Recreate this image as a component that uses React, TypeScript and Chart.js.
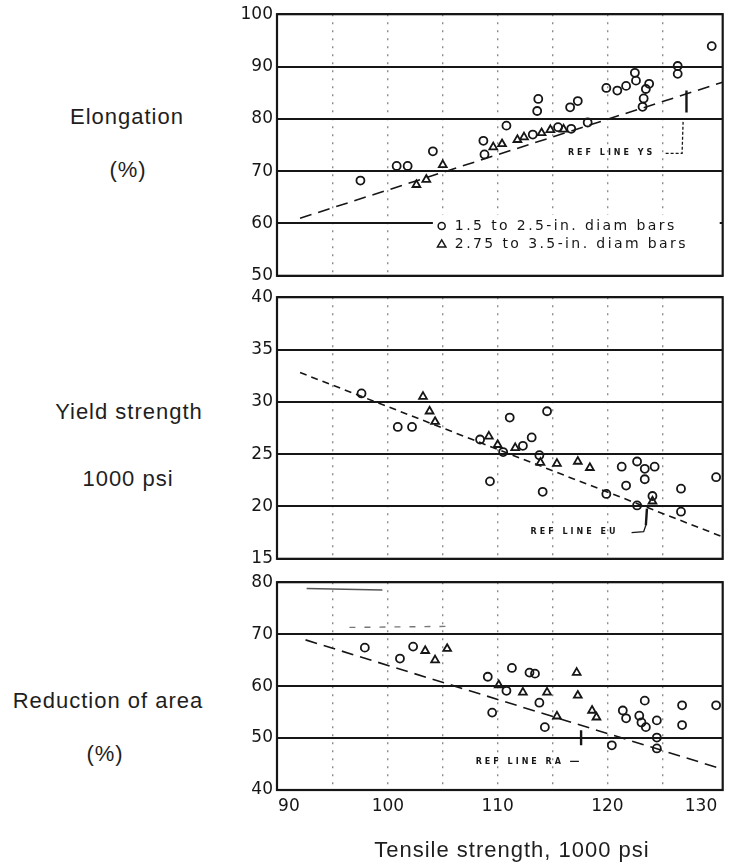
import React, { useEffect, useRef } from "react";
import { Chart, registerables } from "chart.js";

Chart.register(...registerables);

// ---------- data ----------
const xTickValues = [90, 95, 100, 105, 110, 115, 120, 125, 130];

const elongationTicks = [50, 60, 70, 80, 90, 100];
const yieldTicks = [15, 20, 25, 30, 35, 40];
const reductionTicks = [40, 50, 60, 70, 80];

// Elongation (%) vs tensile strength
const elongationCircles: [number, number][] = [
  [97.5, 68.2], [100.8, 71.0], [101.8, 71.0], [104.1, 73.8], [108.7, 75.8], [108.8, 73.2],
  [110.8, 78.7], [113.2, 77.0], [113.7, 83.8], [113.6, 81.5], [115.5, 78.4], [116.7, 78.1],
  [116.6, 82.2], [117.3, 83.4], [118.2, 79.3], [119.9, 85.9], [120.9, 85.4], [121.7, 86.3],
  [122.5, 88.8], [122.6, 87.3], [123.5, 85.7], [123.8, 86.7], [123.3, 83.9], [123.2, 82.3],
  [126.4, 90.1], [126.4, 88.6], [129.5, 93.9],
];
const elongationTriangles: [number, number][] = [
  [102.6, 67.4], [103.5, 68.4], [105.0, 71.2], [109.6, 74.6], [110.4, 75.2], [111.8, 76.0],
  [112.4, 76.5], [114.0, 77.3], [114.8, 77.9], [116.0, 78.0],
];
const elongationRef: [number, number][] = [[92, 61], [130.5, 87]];
const elongationMark: [number, number][] = [[127.2, 85.4], [127.2, 81.2]];
const elongationLeader: [number, number][] = [[125.3, 73.4], [126.8, 73.4], [126.9, 79.8]];

// Yield strength (1000 psi)
const yieldCircles: [number, number][] = [
  [97.6, 30.8], [100.9, 27.6], [102.2, 27.6], [108.4, 26.4], [109.3, 22.4], [110.5, 25.2],
  [111.1, 28.5], [112.3, 25.8], [113.1, 26.6], [113.8, 24.9], [114.5, 29.1], [114.1, 21.4],
  [119.9, 21.2], [121.3, 23.8], [121.7, 22.0], [122.7, 24.3], [123.4, 23.6], [123.4, 22.6],
  [124.3, 23.8], [122.7, 20.1], [124.1, 21.0], [126.7, 21.7], [126.7, 19.5], [129.9, 22.8],
];
const yieldTriangles: [number, number][] = [
  [103.2, 30.5], [103.8, 29.1], [104.3, 28.1], [109.2, 26.7], [110.0, 25.9], [111.6, 25.6],
  [113.9, 24.2], [115.4, 24.1], [117.3, 24.3], [118.4, 23.7], [124.1, 20.5],
];
const yieldRef: [number, number][] = [[92, 32.8], [130.5, 17.1]];
const yieldMark: [number, number][] = [[123.6, 19.8], [123.5, 18.2]];
const yieldLeader: [number, number][] = [[122.2, 17.5], [123.3, 17.6], [123.5, 18.2]];

// Reduction of area (%)
const reductionCircles: [number, number][] = [
  [97.9, 67.4], [101.1, 65.3], [102.3, 67.6], [109.1, 61.8], [109.5, 54.9], [111.3, 63.5],
  [112.9, 62.6], [113.4, 62.4], [110.8, 59.1], [113.8, 56.8], [114.3, 52.1], [120.4, 48.6],
  [121.4, 55.3], [121.7, 53.8], [122.9, 54.3], [123.1, 53.0], [123.5, 52.1], [124.5, 53.4],
  [123.4, 57.2], [124.5, 50.1], [124.5, 48.0], [126.8, 56.3], [126.8, 52.5], [129.9, 56.3],
];
const reductionTriangles: [number, number][] = [
  [103.4, 66.8], [104.3, 65.0], [105.4, 67.2], [110.1, 60.2], [112.3, 58.8], [114.5, 58.8],
  [117.2, 62.6], [117.3, 58.2], [115.4, 54.2], [118.6, 55.3], [119.0, 54.0],
];
const reductionRef: [number, number][] = [[92.5, 68.9], [130.5, 44]];
const reductionMark: [number, number][] = [[117.6, 51.5], [117.6, 48.6]];
const reductionLeader: [number, number][] = [[116.6, 45.5], [117.4, 45.5]];
const reductionTopStroke: [number, number][] = [[92.6, 78.8], [99.5, 78.5]];
const reductionFaintDashes: [number, number][] = [[96.5, 71.3], [105.5, 71.5]];

const legendLabels = ["1.5 to 2.5-in. diam bars", "2.75 to 3.5-in. diam bars"];
const refLabels = ["REF LINE YS", "REF LINE EU", "REF LINE RA"];

// ---------- helpers ----------
const INK = "#161616";
const xy = (pts: [number, number][]) => pts.map(([x, y]) => ({ x, y }));

const lineDs = (pts: [number, number][], dash: number[], width = 1.6, color = INK) => ({
  data: xy(pts),
  showLine: true,
  borderColor: color,
  borderWidth: width,
  borderDash: dash,
  pointRadius: 0,
  pointHoverRadius: 0,
  fill: false,
  tension: 0,
});

const markerDs = (pts: [number, number][], style: string, r: number) => ({
  data: xy(pts),
  showLine: false,
  pointStyle: style,
  pointRadius: r,
  pointHoverRadius: r,
  pointBorderWidth: 1.8,
  borderColor: INK,
  backgroundColor: "rgba(0,0,0,0)",
});

const extrasPlugin = {
  id: "panelExtras",
  afterDatasetsDraw(chart: any, _a: any, opts: any) {
    const { ctx } = chart;
    const xs = chart.scales.x;
    const ys = chart.scales.y;
    ctx.save();
    (opts.notes || []).forEach((n: any) => {
      ctx.font = 'bold 8px "DejaVu Sans"';
      ctx.letterSpacing = "3px";
      ctx.fillStyle = INK;
      ctx.textAlign = "left";
      ctx.textBaseline = "middle";
      ctx.fillText(n.text, xs.getPixelForValue(n.x), ys.getPixelForValue(n.y));
    });
    if (opts.legend) {
      const L = opts.legend;
      const left = xs.getPixelForValue(L.x0);
      const top = ys.getPixelForValue(L.y0);
      const right = chart.chartArea.right - 3;
      const bottom = chart.chartArea.bottom - 2;
      ctx.fillStyle = "#ffffff";
      ctx.fillRect(left, top, right - left, bottom - top);
      ctx.font = '14px "DejaVu Sans"';
      ctx.letterSpacing = "2.4px";
      ctx.textAlign = "left";
      ctx.textBaseline = "middle";
      L.rows.forEach((row: any, i: number) => {
        const yy = ys.getPixelForValue(row.y);
        const mx = xs.getPixelForValue(L.markerX);
        ctx.strokeStyle = INK;
        ctx.lineWidth = 1.5;
        ctx.beginPath();
        if (i === 0) {
          ctx.arc(mx, yy, 3.5, 0, Math.PI * 2);
        } else {
          ctx.moveTo(mx, yy - 4);
          ctx.lineTo(mx + 4.2, yy + 3);
          ctx.lineTo(mx - 4.2, yy + 3);
          ctx.closePath();
        }
        ctx.stroke();
        ctx.fillStyle = INK;
        ctx.fillText(row.text, xs.getPixelForValue(L.textX), yy);
      });
    }
    ctx.restore();
  },
  afterDraw(chart: any) {
    const { ctx, chartArea: a } = chart;
    ctx.save();
    ctx.strokeStyle = INK;
    ctx.lineWidth = 2.2;
    ctx.strokeRect(a.left, a.top, a.right - a.left, a.bottom - a.top);
    ctx.restore();
  },
};

type PanelSpec = {
  yMin: number;
  yMax: number;
  yTicks: number[];
  showX: boolean;
  datasets: any[];
  extras: any;
  top: number;
  height: number;
  padBottom: number;
};

const TICK_FONT = { family: '"DejaVu Sans", sans-serif', size: 17 };

function makeConfig(p: PanelSpec): any {
  return {
    type: "scatter",
    data: { datasets: p.datasets },
    plugins: [extrasPlugin],
    options: {
      animation: false,
      responsive: false,
      events: [],
      layout: { padding: { left: 10, right: 5, top: 13, bottom: p.padBottom } },
      plugins: {
        legend: { display: false },
        tooltip: { enabled: false },
        panelExtras: p.extras,
      },
      scales: {
        x: {
          type: "linear",
          min: 89.9,
          max: 130.5,
          afterBuildTicks: (s: any) => {
            s.ticks = xTickValues.map((v) => ({ value: v }));
          },
          afterFit: (s: any) => {
            s.height = p.showX ? 30 : 0;
            s.paddingLeft = 0;
            s.paddingRight = 0;
          },
          ticks: {
            display: p.showX,
            autoSkip: false,
            maxRotation: 0,
            align: "inner",
            padding: 6,
            color: INK,
            font: TICK_FONT,
            callback: (v: number) => (v % 10 === 0 ? String(v) : ""),
          },
          grid: {
            drawTicks: false,
            lineWidth: 1.4,
            color: (c: any) =>
              c.tick && (c.tick.value === 90 || c.tick.value === 130) ? "rgba(0,0,0,0)" : "#8c8c8c",
          },
          border: { display: false, dash: [2, 6] },
        },
        y: {
          type: "linear",
          min: p.yMin,
          max: p.yMax,
          afterBuildTicks: (s: any) => {
            s.ticks = p.yTicks.map((v) => ({ value: v }));
          },
          afterFit: (s: any) => {
            s.width = 46;
          },
          ticks: { color: INK, font: TICK_FONT, padding: 4 },
          grid: { drawTicks: false, lineWidth: 2, color: INK },
          border: { display: false },
        },
      },
    },
  };
}

const panels: PanelSpec[] = [
  {
    yMin: 50, yMax: 100, yTicks: elongationTicks, showX: false, top: 0, height: 290, padBottom: 14,
    datasets: [
      lineDs(elongationRef, [12, 7]),
      lineDs(elongationMark, [], 2.4),
      lineDs(elongationLeader, [3, 2], 1.3),
      markerDs(elongationCircles, "circle", 4),
      markerDs(elongationTriangles, "triangle", 4.5),
    ],
    extras: {
      notes: [{ text: refLabels[0], x: 116.4, y: 73.4 }],
      legend: {
        x0: 104.1, y0: 61.7, markerX: 104.9, textX: 106.1,
        rows: [
          { text: legendLabels[0], y: 59.5 },
          { text: legendLabels[1], y: 56.1 },
        ],
      },
    },
  },
  {
    yMin: 15, yMax: 40, yTicks: yieldTicks, showX: false, top: 283, height: 290, padBottom: 12,
    datasets: [
      lineDs(yieldRef, [7, 5]),
      lineDs(yieldMark, [], 2.4),
      lineDs(yieldLeader, [], 1.3),
      markerDs(yieldCircles, "circle", 4),
      markerDs(yieldTriangles, "triangle", 4.5),
    ],
    extras: { notes: [{ text: refLabels[1], x: 113.0, y: 17.6 }] },
  },
  {
    yMin: 40, yMax: 80, yTicks: reductionTicks, showX: true, top: 568, height: 266, padBottom: 14,
    datasets: [
      lineDs(reductionRef, [12, 7]),
      lineDs(reductionMark, [], 2.4),
      lineDs(reductionLeader, [], 1.3),
      lineDs(reductionTopStroke, [], 1.4, "#555"),
      lineDs(reductionFaintDashes, [6, 9], 1.4, "#777"),
      markerDs(reductionCircles, "circle", 4),
      markerDs(reductionTriangles, "triangle", 4.5),
    ],
    extras: { notes: [{ text: refLabels[2], x: 108.0, y: 45.4 }] },
  },
];

function Panel({ spec }: { spec: PanelSpec }) {
  const ref = useRef<HTMLCanvasElement | null>(null);
  useEffect(() => {
    const chart = new Chart(ref.current as HTMLCanvasElement, makeConfig(spec));
    return () => chart.destroy();
  }, [spec]);
  return (
    <canvas
      ref={ref}
      width={508}
      height={spec.height}
      style={{ position: "absolute", left: 221, top: spec.top, width: 508, height: spec.height }}
    />
  );
}

const labelStyle = (cx: number, cy: number): React.CSSProperties => ({
  position: "absolute",
  left: cx,
  top: cy,
  transform: "translate(-50%, -50%)",
  whiteSpace: "nowrap",
  fontFamily: '"Liberation Sans", Arial, sans-serif',
  fontSize: 22,
  letterSpacing: "1px",
  color: "#1e1e1e",
});

export default function App() {
  return (
    <div
      style={{
        position: "fixed",
        left: 0,
        top: 0,
        width: 729,
        height: 866,
        background: "#ffffff",
        overflow: "hidden",
      }}
    >
      {panels.map((p, i) => (
        <Panel key={i} spec={p} />
      ))}
      <div style={labelStyle(127, 117)}>Elongation</div>
      <div style={labelStyle(128, 170)}>(%)</div>
      <div style={labelStyle(129, 412)}>Yield strength</div>
      <div style={labelStyle(128, 479)}>1000 psi</div>
      <div style={labelStyle(108, 701)}>Reduction of area</div>
      <div style={labelStyle(105, 754)}>(%)</div>
      <div style={labelStyle(512, 850)}>Tensile strength, 1000 psi</div>
    </div>
  );
}
